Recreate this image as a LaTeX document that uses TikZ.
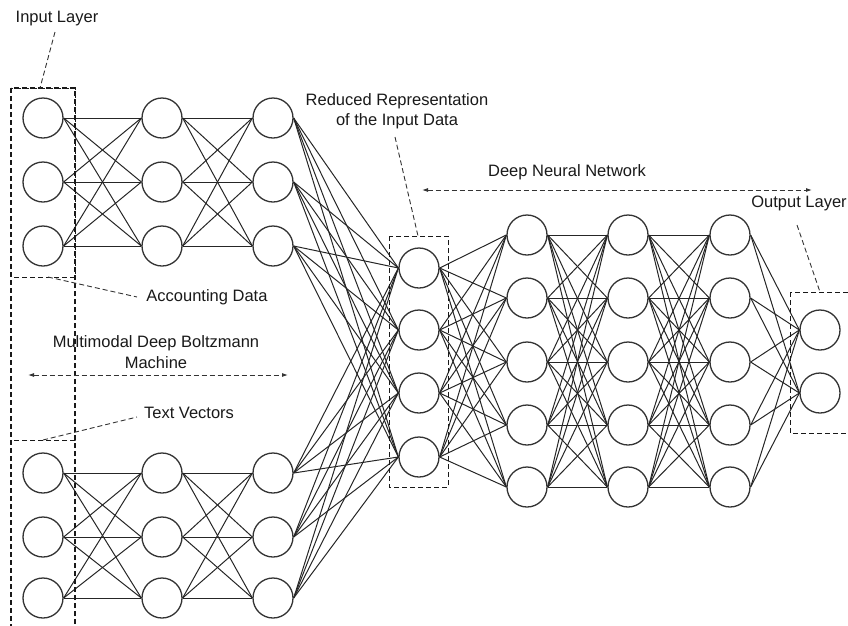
\documentclass[tikz,border=0pt]{standalone}
\usepackage{fontspec}
\setmainfont{Liberation Sans}
\usetikzlibrary{arrows.meta}
\begin{document}
\begin{tikzpicture}[x=1pt,y=-1pt,
 neuron/.style={circle,draw=black!80,line width=1.3pt,minimum size=40pt,inner sep=0pt,fill=white},
 conn/.style={line width=1pt,draw=black!85},
 lbl/.style={font=\fontsize{16.5}{20.5}\selectfont,text=black!90,inner sep=0pt,align=center},
 dbox/.style={line width=1pt,dash pattern=on 5pt off 3pt,draw=black!90},
 lead/.style={line width=0.9pt,dash pattern=on 5pt off 3pt,draw=black!80},
 span/.style={lead,{Latex[length=6pt,width=4pt]}-{Latex[length=6pt,width=4pt]}}]
\useasboundingbox (0,0) rectangle (848,625);
\clip (0,0) rectangle (848,625);
% neurons
\foreach \c/\x in {1/43,2/162,3/273}{
  \foreach \r/\y in {1/118,2/182,3/246} \node[neuron] (a\c\r) at (\x,\y) {};
  \foreach \r/\y in {1/473,2/537,3/598} \node[neuron] (b\c\r) at (\x,\y) {};
}
\foreach \r/\y in {1/268,2/330,3/393,4/457} \node[neuron] (r\r) at (419,\y) {};
\foreach \c/\x in {1/527,2/628,3/730}
  \foreach \r/\y in {1/235,2/298,3/362,4/425,5/487} \node[neuron] (d\c\r) at (\x,\y) {};
\node[neuron] (o1) at (820,330) {};
\node[neuron] (o2) at (820,393) {};
% connections
\foreach \s in {1,2,3} \foreach \t in {1,2,3} {
  \draw[conn] (a1\s.east) -- (a2\t.west);
  \draw[conn] (a2\s.east) -- (a3\t.west);
  \draw[conn] (b1\s.east) -- (b2\t.west);
  \draw[conn] (b2\s.east) -- (b3\t.west);
}
\foreach \s in {1,2,3} \foreach \t in {1,...,4} {
  \draw[conn] (a3\s.east) -- (r\t.west);
  \draw[conn] (b3\s.east) -- (r\t.west);
}
\foreach \s in {1,...,4} \foreach \t in {1,...,5} \draw[conn] (r\s.east) -- (d1\t.west);
\foreach \s in {1,...,5} \foreach \t in {1,...,5} {
  \draw[conn] (d1\s.east) -- (d2\t.west);
  \draw[conn] (d2\s.east) -- (d3\t.west);
}
\foreach \s in {1,...,5} \foreach \t in {1,2} \draw[conn] (d3\s.east) -- (o\t.west);
% boxes
\draw[dbox,line width=1.7pt] (11,88) rectangle (75,640);
\draw[dbox] (11,88) rectangle (75,277);
\draw[dbox] (11,440) rectangle (75,640);
\draw[dbox] (389,236) rectangle (448,487);
\draw[dbox] (790,292) rectangle (870,433);
% labels
\node[lbl] (tIn) at (57,19) {Input Layer};
\node[lbl] (tAcc) at (207,297) {Accounting Data};
\node[lbl] (tMD) at (156,352) {Multimodal Deep Boltzmann\\Machine};
\node[lbl] (tTV) at (189,413) {Text Vectors};
\node[lbl] (tRed) at (397,111) {Reduced Representation\\of the Input Data};
\node[lbl] (tDNN) at (567,172) {Deep Neural Network};
\node[lbl] (tOut) at (799,203) {Output Layer};
% leaders
\coordinate (inA) at (55,32);   \coordinate (inB) at (40,88);
\coordinate (acA) at (48,277);  \coordinate (acB) at (137,297);
\coordinate (tvA) at (43,440);  \coordinate (tvB) at (137,417);
\coordinate (rdA) at (395,137); \coordinate (rdB) at (418,236);
\coordinate (ouA) at (797,225); \coordinate (ouB) at (820,292);
\draw[lead] (inA) -- (inB);
\draw[lead] (acA) -- (acB);
\draw[lead] (tvA) -- (tvB);
\draw[lead] (rdA) -- (rdB);
\draw[lead] (ouA) -- (ouB);
% spans
\coordinate (mdL) at (28,375);  \coordinate (mdR) at (288,375);
\coordinate (dnL) at (422,190); \coordinate (dnR) at (812,190);
\draw[span] (mdL) -- (mdR);
\draw[span] (dnL) -- (dnR);
\end{tikzpicture}
\end{document}
